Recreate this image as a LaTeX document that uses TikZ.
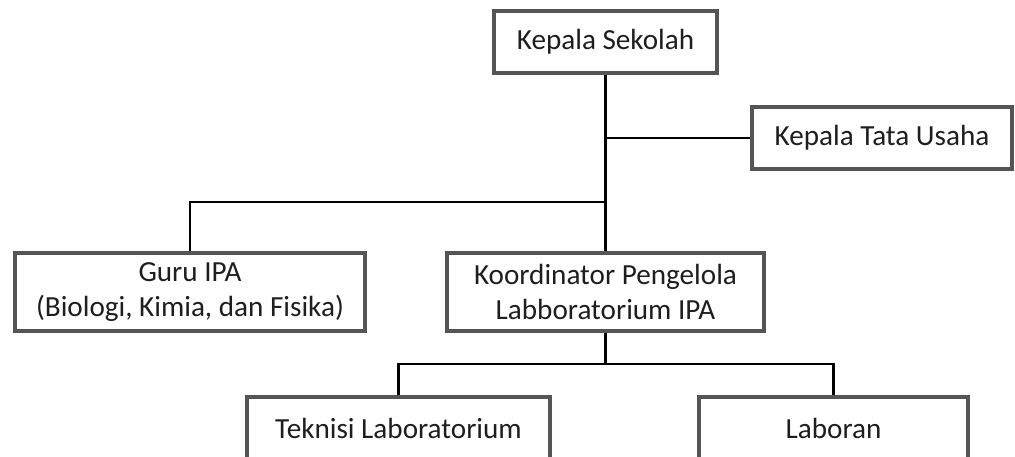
\documentclass[tikz,border=0pt]{standalone}
\usepackage{fontspec}
\setmainfont{Carlito}
\usetikzlibrary{positioning}
\definecolor{boxgray}{RGB}{85,85,85}
\definecolor{textgray}{RGB}{30,30,30}
\begin{document}
\begin{tikzpicture}[node distance={5cm},main/.style = {draw=boxgray, line width=0.08cm, fill=white, text=textgray, align=center, inner sep=0pt, minimum height=1.24cm, font=\fontsize{16.6}{19.6}\selectfont}, conn/.style = {line width=0.05cm, black}] 
			\useasboundingbox (0,0) rectangle (20.3,-9.12);
			\node[main] (1) [minimum width=4.46cm] at (12.11,-0.84) {Kepala Sekolah}; 
			
			\node[main] (2) [minimum width=5.2cm, right of=1, xshift=0.53cm, yshift=-1.92cm] {Kepala Tata Usaha}; 
			
			\node[main] (4) [minimum width=6.34cm, minimum height=1.56cm, below of=1] {Koordinator Pengelola\\Labboratorium IPA}; 
			\node[main] (3) [minimum width=7cm, minimum height=1.56cm, left of=4, xshift=-3.31cm] {Guru IPA\\(Biologi, Kimia, dan Fisika)}; 
			
			\node[main] (5) [minimum width=6.06cm, below of=4, xshift=-4.14cm, yshift=2.28cm] {Teknisi Laboratorium}; 
			\node[main] (6) [minimum width=5.38cm, right of=5, xshift=3.7cm] {Laboran}; 
			
			\coordinate[above=0.98cm of 4.north] (j1);
			\coordinate[below=0.62cm of 4.south] (j2);
			
			\draw[conn] (1)--(4.north);
			\draw[conn] (2.west)--(2.west -| 1);
			\draw[conn] (3.north) |- (j1);
			\draw[conn] (4.south)--(j2);
			\draw[conn] (j2) -| (5.north);
			\draw[conn] (j2) -| (6.north);
			
		\end{tikzpicture}
\end{document}
